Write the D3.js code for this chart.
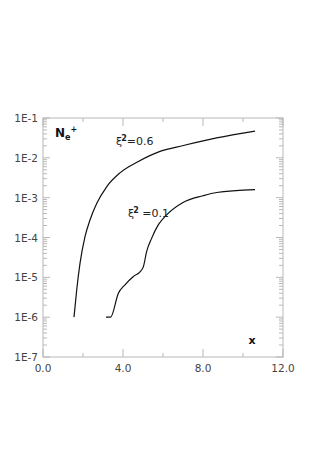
<!DOCTYPE html>
<html>
<head>
<meta charset="utf-8">
<script src="https://cdn.jsdelivr.net/npm/d3@7"></script>
<style>
  html, body { margin: 0; padding: 0; background: #fff; }
  svg { display: block; font-family: "DejaVu Sans", sans-serif; }
</style>
</head>
<body>
<script>
// curve xi^2 = 0.6
const xHigh = [1.55, 1.685, 1.85, 2.1, 2.35, 2.69, 3.19, 3.85, 4.77, 5.85, 7.02, 8.68, 10.6];
const nHigh = [1.0e-6, 4.8e-6, 2.24e-5, 1.05e-4, 2.75e-4, 7.2e-4, 1.9e-3, 4.2e-3, 8.1e-3, 1.45e-2, 2.04e-2, 3.16e-2, 4.68e-2];
// curve xi^2 = 0.1
const xLow = [3.15, 3.38, 3.77, 4.1, 4.52, 4.85, 5.02, 5.18, 5.43, 5.77, 6.18, 7.0, 8.0, 8.68, 10.6];
const nLow = [1.0e-6, 1.0e-6, 4.0e-6, 6.5e-6, 1.05e-5, 1.38e-5, 1.86e-5, 4.4e-5, 9.5e-5, 2.1e-4, 3.7e-4, 7.6e-4, 1.12e-3, 1.35e-3, 1.6e-3];

const xTicks = [0, 2, 4, 6, 8, 10, 12];
const xLabelTicks = [0, 4, 8, 12];
const yDecades = [1e-7, 1e-6, 1e-5, 1e-4, 1e-3, 1e-2, 1e-1];

const width = 315, height = 454;
const margin = {left: 43, right: 32, top: 118, bottom: 97};

const svg = d3.select('body').append('svg')
    .attr('width', width)
    .attr('height', height);

const x = d3.scaleLinear().domain([0, 12]).range([margin.left, width - margin.right]);
const y = d3.scaleLog().domain([1e-7, 1e-1]).range([height - margin.bottom, margin.top]);

const axisColor = '#b8b8b8';
const textColor = '#444';

// frame
svg.append('rect')
    .attr('x', x(0)).attr('y', y(1e-1))
    .attr('width', x(12) - x(0)).attr('height', y(1e-7) - y(1e-1))
    .attr('fill', 'none').attr('stroke', axisColor).attr('stroke-width', 1);

// x ticks, bottom and top, inward
const tickLen = d => xLabelTicks.includes(d) ? 8 : 4;
xTicks.forEach(d => {
    svg.append('line')
        .attr('x1', x(d)).attr('x2', x(d))
        .attr('y1', y(1e-7)).attr('y2', y(1e-7) - tickLen(d))
        .attr('stroke', axisColor);
    svg.append('line')
        .attr('x1', x(d)).attr('x2', x(d))
        .attr('y1', y(1e-1)).attr('y2', y(1e-1) + tickLen(d))
        .attr('stroke', axisColor);
});

// y ticks, log minor ticks
y.ticks().forEach(d => {
    const major = yDecades.some(v => Math.abs(v / d - 1) < 1e-6);
    const len = major ? 7 : 4;
    svg.append('line')
        .attr('x1', x(0)).attr('x2', x(0) + len)
        .attr('y1', y(d)).attr('y2', y(d))
        .attr('stroke', axisColor);
    svg.append('line')
        .attr('x1', x(12)).attr('x2', x(12) - len)
        .attr('y1', y(d)).attr('y2', y(d))
        .attr('stroke', axisColor);
});

// tick labels
svg.append('g')
    .selectAll('text')
    .data(xLabelTicks)
    .join('text')
    .attr('x', d => x(d))
    .attr('y', y(1e-7) + 15)
    .attr('text-anchor', 'middle')
    .attr('font-size', 10.5)
    .attr('fill', textColor)
    .text(d => d.toFixed(1));

svg.append('g')
    .selectAll('text')
    .data(yDecades)
    .join('text')
    .attr('x', x(0) - 5)
    .attr('y', d => y(d) + 4)
    .attr('text-anchor', 'end')
    .attr('font-size', 10.5)
    .attr('fill', textColor)
    .text(d => `1E-${Math.round(-Math.log10(d))}`);

// curves
const line = d3.line()
    .x(d => x(d[0]))
    .y(d => y(d[1]))
    .curve(d3.curveMonotoneX);

[[xHigh, nHigh], [xLow, nLow]].forEach(([xs, ns]) => {
    svg.append('path')
        .datum(xs.map((v, i) => [v, ns[i]]))
        .attr('d', line)
        .attr('fill', 'none')
        .attr('stroke', '#111')
        .attr('stroke-width', 1.2);
});

// curve labels
function xiLabel(px, py, value, gap) {
    const t = svg.append('text')
        .attr('x', px).attr('y', py)
        .attr('font-size', 11)
        .attr('fill', '#222');
    t.append('tspan').text('ξ');
    t.append('tspan').attr('dx', -1).attr('dy', -4).attr('font-size', 8).attr('font-weight', 'bold').text('2');
    t.append('tspan').attr('dy', 4).text(gap + '=' + value);
}
xiLabel(x(3.65), y(10 ** -1.68), '0.6', '');
xiLabel(x(4.25), y(10 ** -3.48), '0.1', ' ');

// y title N_e+
const ny = svg.append('text')
    .attr('x', 55).attr('y', 137)
    .attr('font-size', 12)
    .attr('font-weight', 'bold')
    .attr('fill', '#111');
ny.append('tspan').text('N');
ny.append('tspan').attr('dy', 3).attr('font-size', 8).text('e');
ny.append('tspan').attr('dy', -8).attr('font-size', 8).text('+');

// x title
svg.append('text')
    .attr('x', 252).attr('y', 344)
    .attr('text-anchor', 'middle')
    .attr('font-size', 11)
    .attr('font-weight', 'bold')
    .attr('fill', '#111')
    .text('x');
</script>
</body>
</html>
